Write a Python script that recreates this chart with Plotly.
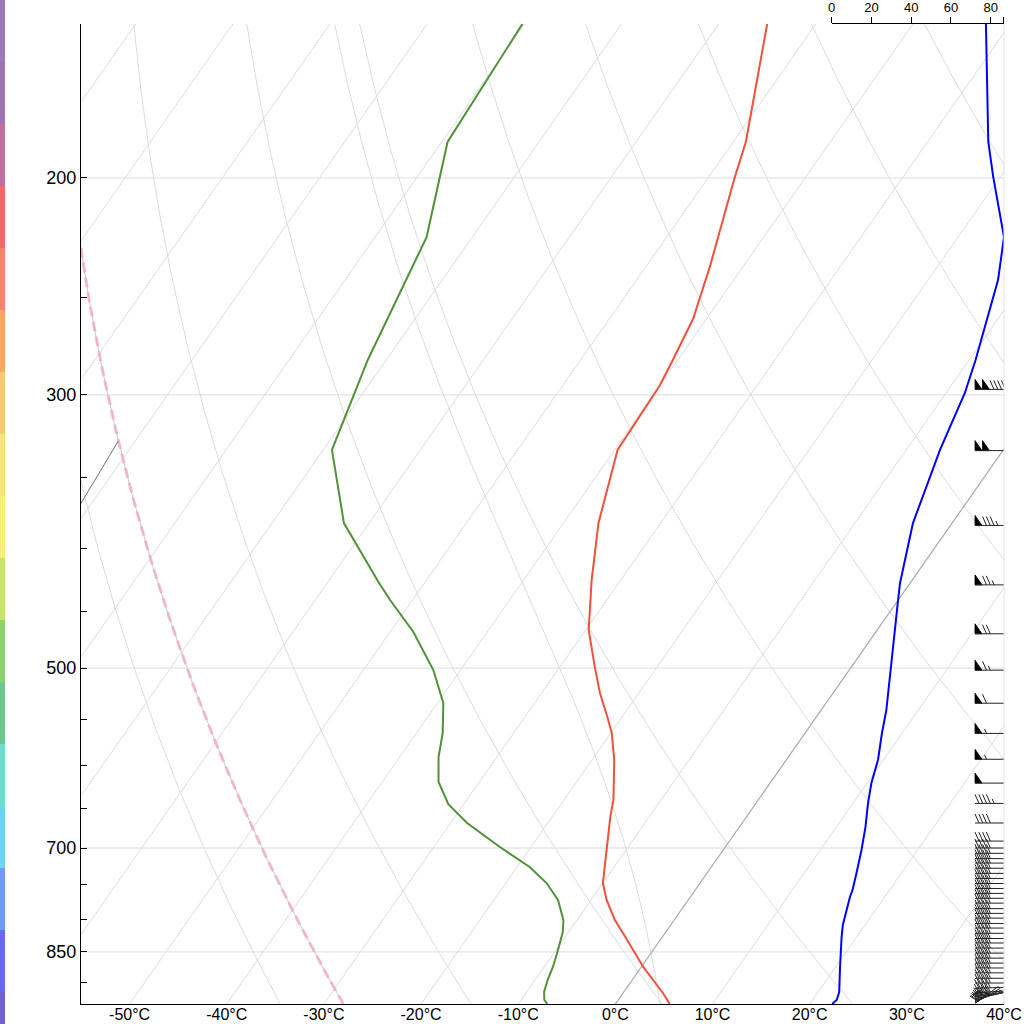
import math
import numpy as np
import plotly.graph_objects as go

# ---------------- data ----------------
temp_p = [150.0, 187.0, 199.7, 216.4, 236.2, 252.7, 259.9, 281.1, 295.1, 332.6, 381.3, 424.1,
          465.7, 499.1, 523.9, 548.0, 564.6, 593.8, 639.9, 660.6, 702.6, 725.2, 747.4, 771.4,
          800.9, 826.6, 847.0, 874.3, 900.9, 917.9, 937.0]
temp_c = [-55.0, -48.7, -47.3, -45.4, -43.4, -42.0, -41.4, -40.5, -40.0, -39.7, -36.4, -33.0,
          -29.7, -26.4, -24.0, -21.5, -19.9, -17.7, -14.9, -14.0, -12.0, -11.0, -10.0, -8.4,
          -6.1, -3.8, -2.1, 0.2, 2.6, 4.1, 5.6]

dewp_p = [150.0, 187.0, 223.4, 281.1, 332.6, 381.3, 425.7, 440.3, 467.4, 501.9, 533.8, 564.6,
          590.5, 618.7, 644.8, 668.1, 698.7, 725.2, 747.4, 771.4, 800.9, 819.0, 847.0, 874.3,
          895.9, 916.2, 930.0, 937.0]
dewp_c = [-80.2, -79.4, -74.7, -71.9, -69.1, -62.6, -54.8, -52.3, -47.6, -42.8, -39.4, -37.3,
          -36.0, -34.2, -31.6, -28.3, -23.2, -18.7, -15.8, -13.4, -11.4, -10.6, -9.8, -9.1,
          -8.7, -8.2, -7.6, -7.0]

wind_p = [150.0, 168.8, 187.0, 199.7, 213.5, 223.4, 242.1, 260.9, 281.1, 299.0, 332.6, 381.3,
          426.5, 440.3, 463.1, 499.1, 540.9, 564.6, 593.8, 619.8, 643.5, 673.1, 702.6, 733.5,
          757.1, 767.1, 786.1, 808.4, 826.6, 851.8, 874.3, 916.2, 930.0, 935.2, 937.0]
wind_ms = [77.6, 78.3, 78.8, 81.3, 84.7, 86.7, 83.7, 78.1, 72.4, 67.0, 54.5, 40.9,
           34.4, 33.4, 32.0, 30.0, 27.5, 25.3, 23.3, 20.0, 18.3, 17.0, 15.0, 12.5,
           10.5, 9.2, 7.6, 5.6, 5.0, 4.5, 4.2, 3.8, 2.5, 0.8, 0.0]

barb_p = [297, 333, 383, 428, 469, 502, 534, 565, 593, 620, 644, 668, 691,
          700, 707, 714, 720, 727, 734, 741, 748, 755, 762, 769, 776, 784, 791, 798,
          806, 813, 821, 829, 836, 844, 852, 860, 868, 876, 884, 893, 901, 910, 918,
          924, 928, 931, 933, 935, 936]
barb_kt = [140, 100, 85, 75, 70, 65, 60, 55, 55, 50, 45, 40, 40,
           40, 40, 40, 40, 40, 40, 40, 40, 40, 40, 40, 40, 40, 40, 40,
           40, 40, 40, 40, 40, 40, 40, 40, 40, 40, 40, 40, 40, 40, 40,
           40, 40, 35, 35, 35, 35]
barb_dir = [270, 270, 270, 270, 270, 270, 270, 270, 270, 270, 270, 270, 270,
            270, 270, 270, 270, 270, 270, 270, 270, 270, 270, 270, 270, 270, 270, 270,
            270, 270, 270, 270, 270, 270, 270, 270, 270, 270, 270, 270, 270, 268, 266,
            262, 258, 252, 246, 240, 234]

pressure_ticks = [150, 200, 250, 300, 350, 400, 450, 500, 550, 600, 650, 700, 750, 800, 850, 900]
pressure_labels = [200, 300, 500, 700, 850]
temp_ticks = [-50, -40, -30, -20, -10, 0, 10, 20, 30, 40]
wind_ticks = [0, 20, 40, 60, 80]
isotherm_values = list(range(-130, 50, 10))
dry_adiabat_theta = list(range(-30, 240, 20))
moist_adiabat_ref = (440.0, -37.9)   # one pseudo-adiabat, passing through (hPa, degC)
parcel_surface_t = -28.0
parcel_lcl_p = 327.0

strip_colors = ["#9a7ab8", "#9c74b0", "#c0709c", "#f06a6a", "#f0836a", "#f2a86c", "#f4c87a",
                "#f6e47a", "#f6f07a", "#c8e274", "#8cd270", "#70c690", "#72dccc", "#72d0f0",
                "#729cf0", "#6a6af0", "#7462c4"]

# ---------------- geometry ----------------
W, H = 1024, 1024
ML, MR, MT, MB = 81, 20, 24, 20
PW, PH = W - ML - MR, H - MT - MB
P_TOP, P_BOT = 150.0, 937.0
T_MIN, T_MAX = -55.0, 40.0
SKEW_DEG = 55.0
LNR = math.log(P_BOT / P_TOP)
K = (PH / LNR) / math.tan(math.radians(SKEW_DEG)) / (PW / (T_MAX - T_MIN))


def skew(t, p):
    return np.asarray(t, float) + K * np.log(P_BOT / np.asarray(p, float))


def ypix(p):
    return PH * math.log(p / P_TOP) / LNR


def pix_to_data(X, Y):
    return T_MIN + X / PW * (T_MAX - T_MIN), P_TOP * math.exp(Y / PH * LNR)


def pseudo_adiabat(p0, t0_c, p_end, step):
    Rd, cp, Lv, eps = 287.04, 1005.7, 2.501e6, 0.622

    def dtdp(p, T):
        es = 6.112 * math.exp(17.67 * (T - 273.15) / (T - 29.65))
        rs = eps * es / (p - es)
        return (Rd * T + Lv * rs) / (p * (cp + Lv * Lv * rs * eps / (Rd * T * T)))

    ps, ts = [p0], [t0_c]
    p, T = p0, t0_c + 273.15
    n = int(abs(p_end - p0) / abs(step))
    h = (p_end - p0) / n
    for _ in range(n):
        k1 = dtdp(p, T)
        k2 = dtdp(p + h / 2, T + h / 2 * k1)
        k3 = dtdp(p + h / 2, T + h / 2 * k2)
        k4 = dtdp(p + h, T + h * k3)
        T += h / 6 * (k1 + 2 * k2 + 2 * k3 + k4)
        p += h
        ps.append(p)
        ts.append(T - 273.15)
    return ps, ts


fig = go.Figure()

# horizontal grid lines
gx, gy = [], []
for p in pressure_labels:
    gx += [T_MIN, T_MAX, None]
    gy += [p, p, None]
fig.add_trace(go.Scatter(x=gx, y=gy, mode="lines", line=dict(color="#e4e4e4", width=1.3),
                         hoverinfo="skip", showlegend=False))

# isotherms
ix, iy = [], []
for t in isotherm_values:
    if t == 0:
        continue
    ix += [t, float(skew(t, P_TOP)), None]
    iy += [P_BOT, P_TOP, None]
fig.add_trace(go.Scatter(x=ix, y=iy, mode="lines", line=dict(color="#dcdcdc", width=1),
                         hoverinfo="skip", showlegend=False))

# dry adiabats
pp = np.exp(np.linspace(math.log(P_TOP), math.log(P_BOT), 120))
dx, dy = [], []
for th in dry_adiabat_theta:
    t = (th + 273.15) * (pp / 1000.0) ** 0.286 - 273.15
    dx += list(skew(t, pp)) + [None]
    dy += list(pp) + [None]
# one moist adiabat
pu, tu = pseudo_adiabat(moist_adiabat_ref[0], moist_adiabat_ref[1], P_TOP, 2.0)
pd_, td_ = pseudo_adiabat(moist_adiabat_ref[0], moist_adiabat_ref[1], P_BOT, 2.0)
mp = pu[::-1] + pd_[1:]
mt = tu[::-1] + td_[1:]
dx += list(skew(mt, mp)) + [None]
dy += mp + [None]
fig.add_trace(go.Scatter(x=dx, y=dy, mode="lines", line=dict(color="#dcdcdc", width=1),
                         hoverinfo="skip", showlegend=False))

# zero isotherm
fig.add_trace(go.Scatter(x=[0, float(skew(0, P_TOP))], y=[P_BOT, P_TOP], mode="lines",
                         line=dict(color="#a8a8a8", width=1.2), hoverinfo="skip", showlegend=False))

# parcel trace (dry adiabat) + isohume to LCL
theta_parcel = (parcel_surface_t + 273.15) * (1000.0 / P_BOT) ** 0.286
pt = theta_parcel * (pp / 1000.0) ** 0.286 - 273.15
fig.add_trace(go.Scatter(x=skew(pt, pp), y=pp, mode="lines", line=dict(color="#c8c8c8", width=1),
                         hoverinfo="skip", showlegend=False))
fig.add_trace(go.Scatter(x=skew(pt, pp), y=pp, mode="lines",
                         line=dict(color="rgba(240,170,185,0.75)", width=3, dash="10px,5px"),
                         hoverinfo="skip", showlegend=False))
t_lcl = theta_parcel * (parcel_lcl_p / 1000.0) ** 0.286 - 273.15
es_lcl = 6.112 * math.exp(17.67 * t_lcl / (t_lcl + 243.5))
ph = np.exp(np.linspace(math.log(parcel_lcl_p), math.log(P_BOT), 40))
e = es_lcl * ph / parcel_lcl_p
lnr = np.log(e / 6.112)
td = 243.5 * lnr / (17.67 - lnr)
fig.add_trace(go.Scatter(x=skew(td, ph), y=ph, mode="lines", line=dict(color="#707070", width=1),
                         hoverinfo="skip", showlegend=False))

# temperature and dewpoint
fig.add_trace(go.Scatter(x=skew(temp_c, temp_p), y=temp_p, mode="lines",
                         line=dict(color="#ef513a", width=2), showlegend=False))
fig.add_trace(go.Scatter(x=skew(dewp_c, dewp_p), y=dewp_p, mode="lines",
                         line=dict(color="#4f9239", width=2), showlegend=False))

# wind barbs (glyphs built in pixel units, placed through the axis scales)
STAFF = 29.0
lx, ly, fx, fy = [], [], [], []
for p, spd, d in zip(barb_p, barb_kt, barb_dir):
    a = math.radians(d - 270)
    ax_, ay_ = PW - STAFF, ypix(p)

    def tr(u, v):
        return pix_to_data(ax_ + u * math.cos(a) - v * math.sin(a),
                           ay_ + u * math.sin(a) + v * math.cos(a))

    def seg(pts):
        for u, v in pts:
            X, Y = tr(u, v)
            lx.append(X)
            ly.append(Y)
        lx.append(None)
        ly.append(None)

    seg([(0, 0), (STAFF, 0)])
    s = int(round(spd / 5.0)) * 5
    n50, s = divmod(s, 50)
    n10, s = divmod(s, 10)
    n5 = s // 5
    for i in range(n50):
        x0 = i * 7.5
        for u, v in [(x0, 0), (x0, -10), (x0 + 7, 0), (x0, 0)]:
            X, Y = tr(u, v)
            fx.append(X)
            fy.append(Y)
        fx.append(None)
        fy.append(None)
    pos = n50 * 7.5 + 4
    for j in range(n10):
        seg([(pos, 0), (pos - 4, -9)])
        pos += 3.8
    if n5:
        seg([(pos, 0), (pos - 2, -4.5)])

fig.add_trace(go.Scatter(x=fx, y=fy, mode="lines", fill="toself", fillcolor="black",
                         line=dict(color="black", width=0.8),
                         hoverinfo="skip", showlegend=False))
fig.add_trace(go.Scatter(x=lx, y=ly, mode="lines", line=dict(color="#222222", width=1),
                         hoverinfo="skip", showlegend=False))

# wind speed profile (top axis)
fig.add_trace(go.Scatter(x=wind_ms, y=wind_p, mode="lines", xaxis="x2", yaxis="y",
                         line=dict(color="#0000ff", width=2), showlegend=False))

# side strip
shapes = []
for i, c in enumerate(strip_colors):
    y0 = i * 62
    y1 = min(H, (i + 1) * 62)
    shapes.append(dict(type="rect", xref="paper", yref="paper",
                       x0=(0 - ML) / PW, x1=(5 - ML) / PW,
                       y0=1 - (y1 - MT) / PH, y1=1 - (y0 - MT) / PH,
                       fillcolor=c, line=dict(width=0), layer="above"))
shapes.append(dict(type="line", xref="paper", yref="paper", x0=1, x1=1, y0=0, y1=1,
                   line=dict(color="#e2e2e2", width=1)))

ytext = [str(p) if p in pressure_labels else "" for p in pressure_ticks] + [""]
wind_max = max(wind_ms)
font = "Liberation Sans, Arial, Helvetica, sans-serif"

fig.update_layout(
    width=W, height=H,
    margin=dict(l=ML, r=MR, t=MT, b=MB, pad=0, autoexpand=False),
    paper_bgcolor="white", plot_bgcolor="rgba(0,0,0,0)",
    font=dict(family=font, color="black"),
    shapes=shapes,
    xaxis=dict(range=[T_MIN, T_MAX], tickvals=temp_ticks,
               ticktext=[f"{t}°C" for t in temp_ticks], ticks="", showline=True,
               linecolor="black", linewidth=1, showgrid=False, zeroline=False,
               tickfont=dict(size=16), ticklabelstandoff=-4,
               fixedrange=True, automargin=False),
    yaxis=dict(type="log", range=[math.log10(P_BOT), math.log10(P_TOP)],
               tickvals=pressure_ticks + [P_BOT], ticktext=ytext, ticks="inside", ticklen=6,
               tickcolor="black", showline=True, linecolor="black", linewidth=1,
               showgrid=False, zeroline=False, tickfont=dict(size=18), fixedrange=True,
               automargin=False),
    xaxis2=dict(domain=[0.8133, 1.0], range=[0, wind_max], anchor="y", side="top",
                tickvals=wind_ticks + [wind_max], ticktext=[str(v) for v in wind_ticks] + [""],
                ticks="outside", ticklen=6, tickcolor="black", showline=True, linecolor="black",
                linewidth=1, showgrid=False, zeroline=False, tickfont=dict(size=13),
                fixedrange=True, automargin=False),
)

fig.write_html("out.html", config={"displayModeBar": False},
               post_script="document.body.style.margin='0px';document.body.style.overflow='hidden';")
